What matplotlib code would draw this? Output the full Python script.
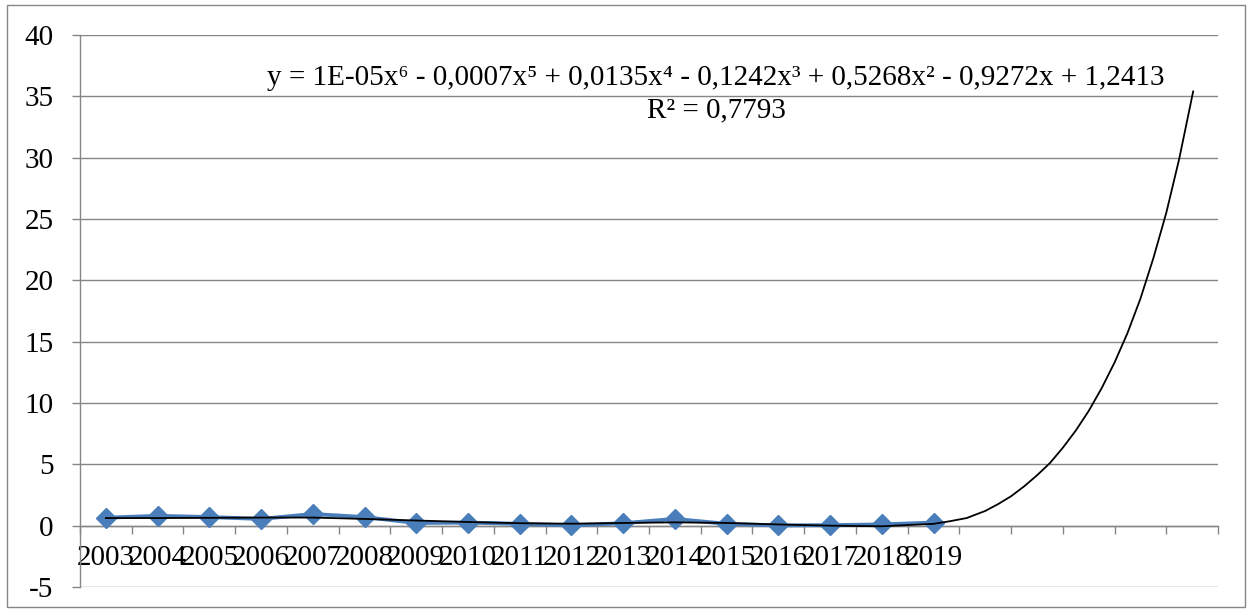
import matplotlib
matplotlib.use("Agg")
import matplotlib.pyplot as plt
from matplotlib.patches import Rectangle

# donnees
annees = ['2003', '2004', '2005', '2006', '2007', '2008', '2009', '2010', '2011',
          '2012', '2013', '2014', '2015', '2016', '2017', '2018', '2019']
valeurs = [0.65, 0.8, 0.7, 0.55, 0.95, 0.7, 0.22, 0.25, 0.15,
           0.02, 0.2, 0.55, 0.15, 0.02, 0.04, 0.1, 0.25]
nb_categories = 22  # 17 annees + 5 periodes de prevision

# courbe de tendance (polynome d'ordre 6)
tendance_x = [1, 2, 3, 4, 5, 6, 7, 8, 9, 10, 11, 12, 13, 14, 15, 16, 17,
              17.3, 17.64, 18, 18.25, 18.5, 18.75, 19, 19.25, 19.5, 19.75, 20,
              20.25, 20.5, 20.75, 21, 21.25, 21.5, 21.75, 22.02]
tendance_y = [0.62, 0.62, 0.64, 0.66, 0.66, 0.55, 0.42, 0.3, 0.2, 0.16, 0.22,
              0.27, 0.22, 0.1, 0.0, -0.05, 0.15,
              0.35, 0.62, 1.2, 1.76, 2.4, 3.2, 4.1, 5.1, 6.35, 7.75, 9.35,
              11.2, 13.3, 15.7, 18.5, 21.8, 25.5, 29.9, 35.4]

equation = 'y = 1E-05x⁶ - 0,0007x⁵ + 0,0135x⁴ - 0,1242x³ + 0,5268x² - 0,9272x + 1,2413'
r2 = 'R² = 0,7793'

police = ['Liberation Serif', 'DejaVu Serif']
plt.rcParams['font.family'] = police
plt.rcParams['axes.unicode_minus'] = False
gris = '#868686'

fig = plt.figure(figsize=(12.52, 6.16), dpi=100)
fig.patches.append(Rectangle((7 / 1252, 1 - 607 / 616), 1238 / 1252, 602 / 616,
                             transform=fig.transFigure, fill=False,
                             edgecolor=gris, linewidth=1.0))
ax = fig.add_axes([80 / 1252, 1 - 587 / 616, 1138 / 1252, 552 / 616])

x = list(range(1, len(valeurs) + 1))
ax.plot(x, valeurs, color='#4A7EBB', linewidth=2.8, marker='D', markersize=10.5,
        markeredgecolor='#4A7EBB', zorder=3)
ax.plot(tendance_x, tendance_y, color='black', linewidth=1.3, zorder=4)

ax.set_xlim(0.5, nb_categories + 0.5)
ax.set_ylim(-5, 40)
ax.set_yticks(range(-5, 41, 5))
ax.yaxis.grid(True, color=gris, linewidth=1.0)
ax.set_axisbelow(True)

for cote in ['top', 'right']:
    ax.spines[cote].set_visible(False)
ax.spines['left'].set_color(gris)
ax.spines['bottom'].set_color(gris)
ax.spines['bottom'].set_position(('data', 0))
ax.spines['left'].set_linewidth(1.0)
ax.spines['bottom'].set_linewidth(1.0)

ax.set_xticks([i + 0.5 for i in range(0, nb_categories + 1)])
ax.set_xticklabels([])
ax.set_xticks(x, minor=True)
ax.set_xticklabels(annees, minor=True, fontsize=21)
ax.tick_params(axis='x', which='major', direction='out', length=6, color=gris, width=1)
ax.tick_params(axis='x', which='minor', length=0, pad=14)
ax.tick_params(axis='y', direction='out', length=6, color=gris, width=1,
               labelsize=21, pad=13)

ax.text(0.559, 0.922, equation, transform=ax.transAxes, ha='center', va='center',
        fontsize=21, family=police)
ax.text(0.559, 0.864, r2, transform=ax.transAxes, ha='center', va='center',
        fontsize=21, family=police)

fig.savefig('out.png', dpi=100)
